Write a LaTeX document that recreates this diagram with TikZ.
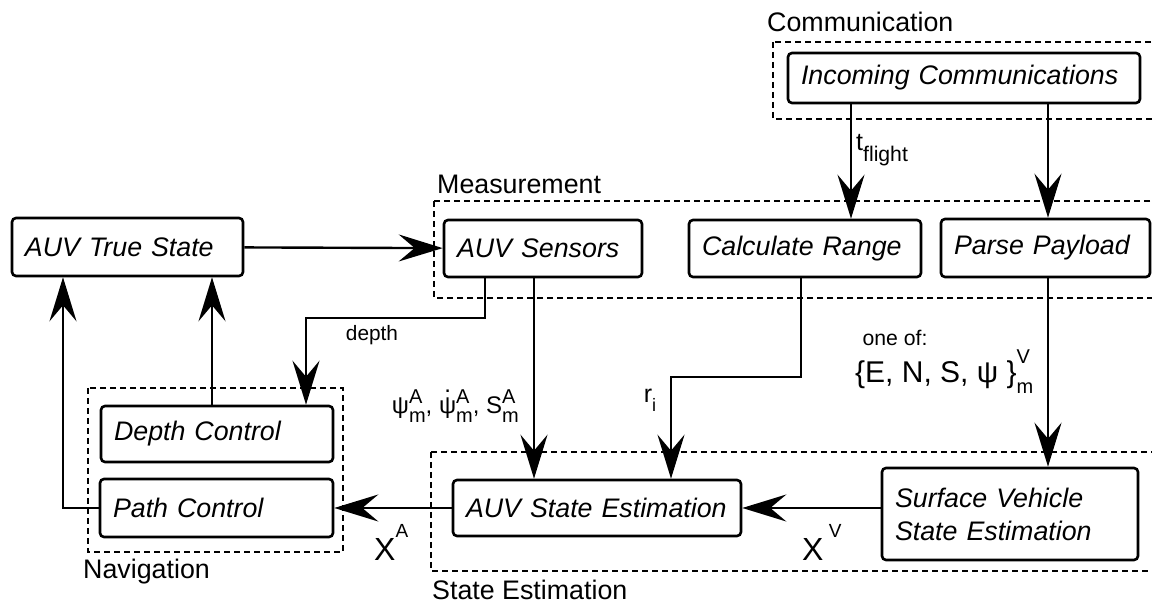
\documentclass[tikz,border=0pt]{standalone}
\usepackage{fontspec}
\setmainfont{Liberation Sans}
\usetikzlibrary{arrows.meta}

\newcommand{\supsub}[3]{% raise, superscript, subscript
  \rlap{\raisebox{#1}{\fontsize{10}{10}\selectfont #2}}\raisebox{-0.37em}{\fontsize{10}{10}\selectfont #3}}
\newcommand{\psidot}{\ooalign{ψ\cr\hfil\raisebox{0.9em}{.}\hfil\cr}}

\tikzset{%
  >={Stealth[length=22pt,width=13.5pt,inset=8pt]},
  % Specifications for style of nodes:
        base/.style = {rectangle, rounded corners=2pt, draw=black, line width=1.3pt,
                       align=left, inner xsep=6.5pt, inner ysep=0pt,
                       font=\itshape\fontsize{13.4}{16.5}\selectfont},
       group/.style = {draw=black, line width=1.25pt, dash pattern=on 2.8pt off 2.2pt},
    grouplbl/.style = {anchor=west, inner sep=0pt, font=\fontsize{13.4}{16}\selectfont},
         lbl/.style = {inner sep=0pt},
}

\begin{document}
\begin{tikzpicture}[x=0.5pt, y=-0.5pt, line width=1.2pt]
  \useasboundingbox (0,0) rectangle (1152,603);

  % Groups (dotted frames) with their titles
  \draw[group] (773,42)  rectangle (1160,119);
  \draw[group] (434,201) rectangle (1160,298);
  \draw[group] (88,388)  rectangle (343,552);
  \draw[group] (431,452) rectangle (1160,571);
  \node (commlbl)  [grouplbl] at (766,22)  {Communication};
  \node (measlbl)  [grouplbl] at (436,184) {Measurement};
  \node (navlbl)   [grouplbl] at (82,572)  {Navigation};
  \node (estlbl)   [grouplbl] at (431,590) {State Estimation};

  % Specification of nodes (position, etc.)
  \node (truestate) [base, text width=102.5pt, minimum height=29pt]   at (127.5,247)  {AUV True State};
  \node (sensors)   [base, text width=86pt,    minimum height=28.5pt] at (543,248.5)  {AUV Sensors};
  \node (calcrange) [base, text width=103pt,   minimum height=28.5pt] at (805,248.5)  {Calculate Range};
  \node (parse)     [base, text width=91.5pt,  minimum height=29pt]   at (1045.5,248) {Parse Payload};
  \node (incoming)  [base, text width=163pt,   minimum height=25pt]   at (964,78)     {Incoming Communications};
  \node (depthctl)  [base, text width=103pt,   minimum height=28pt]   at (217,434)    {Depth Control};
  \node (pathctl)   [base, text width=103.5pt, minimum height=29pt]   at (216.5,508)  {Path Control};
  \node (auvse)     [base, text width=131pt,   minimum height=28pt]   at (597,508)    {AUV State Estimation};
  \node (svse)      [base, text width=115pt,   minimum height=46pt]   at (1010,514)   {Surface Vehicle\\State Estimation};

  % helper points for the connectors
  \coordinate (tfx)     at (851,0);
  \coordinate (ppx)     at (1048,0);
  \coordinate (depx)    at (485,0);
  \coordinate (senx)    at (534,0);
  \coordinate (crx)     at (801,0);
  \coordinate (dcx)     at (212,0);
  \coordinate (loopx)   at (63,0);
  \coordinate (depthcorner) at (306,318);
  \coordinate (rcorner)     at (671,377);

  % Specification of lines between nodes specified above
  \draw[->] (truestate) -- (sensors);
  \draw[->] (incoming.south -| tfx) -- (calcrange.north -| tfx);
  \draw[->] (incoming.south -| ppx) -- (parse.north -| ppx);
  \draw[->] (sensors.south -| depx) |- (depthcorner) -- (depthctl.north -| depthcorner);
  \draw[->] (sensors.south -| senx) -- (auvse.north -| senx);
  \draw[->] (calcrange.south -| crx) |- (rcorner) -- (auvse.north -| rcorner);
  \draw[->] (parse.south -| ppx) -- (svse.north -| ppx);
  \draw[->] (svse.west |- auvse.east) -- (auvse.east);
  \draw[->] (auvse.west) -- (pathctl.east);
  \draw[->] (pathctl.west) -| (truestate.south -| loopx);
  \draw[->] (depthctl.north -| dcx) -- (truestate.south -| dcx);

  % labels on the connectors
  \node (tflight) [lbl, anchor=west, font=\fontsize{12.5}{12}\selectfont] at (855,150)
        {t\raisebox{-0.45em}{\fontsize{10.6}{11}\selectfont flight}};
  \node (depthlbl) [lbl, font=\fontsize{10.4}{11}\selectfont] at (372,335) {depth};
  \node (meas) [lbl, anchor=east, font=\fontsize{12}{12}\selectfont] at (520,406)
        {ψ\supsub{0.45em}{A}{m}, \psidot\supsub{0.45em}{A}{m}, S\supsub{0.45em}{A}{m}};
  \node (rilbl) [lbl, font=\fontsize{12.5}{13}\selectfont] at (650,400)
        {r\raisebox{-0.35em}{\fontsize{9}{9}\selectfont i}};
  \node (oneof) [lbl, font=\fontsize{10.6}{11}\selectfont] at (895,338) {one of:};
  \node (payload) [lbl, anchor=west, font=\fontsize{15}{16}\selectfont] at (854,372)
        {\{E, N, S, ψ \}\supsub{0.63em}{V}{m}};
  \node (xv) [lbl, anchor=west, font=\fontsize{16}{17}\selectfont] at (801,542)
        {X\,\raisebox{0.72em}{\fontsize{9.5}{10}\selectfont V}};
  \node (xa) [lbl, anchor=west, font=\fontsize{16}{17}\selectfont] at (373,542)
        {X\raisebox{0.72em}{\fontsize{9.5}{10}\selectfont A}};
\end{tikzpicture}
\end{document}
